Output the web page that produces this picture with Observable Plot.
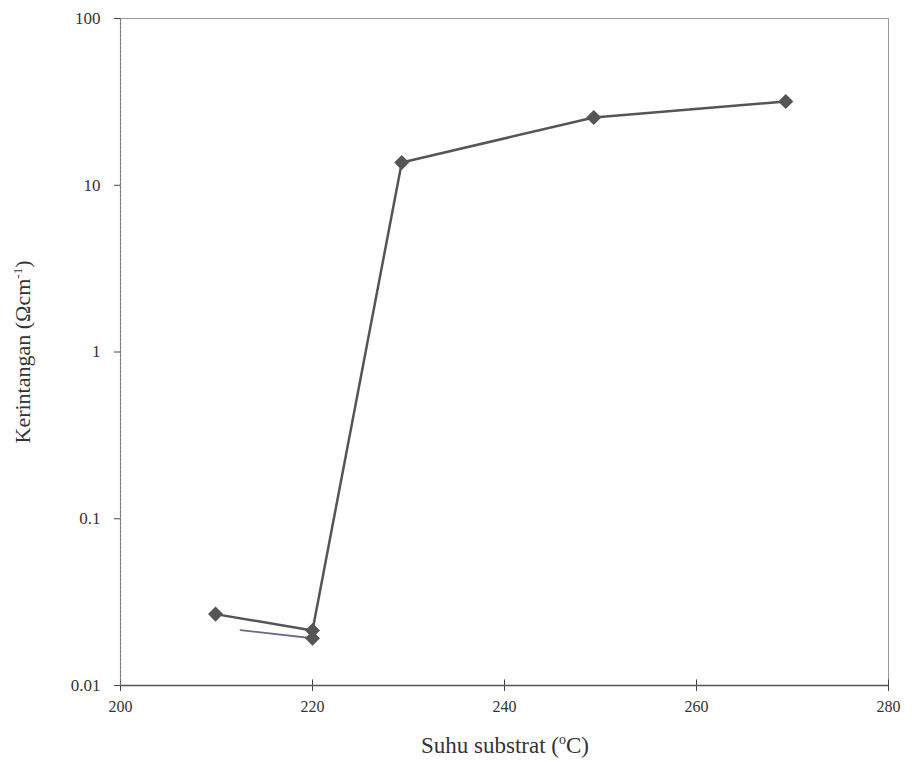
<!DOCTYPE html>
<html>
<head>
<meta charset="utf-8">
<script src="https://cdn.jsdelivr.net/npm/d3@7"></script>
<script src="https://cdn.jsdelivr.net/npm/@observablehq/plot@0.6"></script>
<style>
  html, body { margin: 0; padding: 0; background: #fff; }
  #chart { width: 912px; height: 762px; }
</style>
</head>
<body>
<div id="chart"></div>
<script>
// Main series: substrate temperature (°C) vs resistivity
const temps = [209.9, 220, 229.3, 249.3, 269.3];
const resist = [0.0268, 0.0214, 13.7, 25.5, 31.8];
// Secondary (lower) branch at 220 °C
const branchTemps = [212.5, 220];
const branchResist = [0.0215, 0.0192];
const xTicks = [200, 220, 240, 260, 280];
const yTicks = [0.01, 0.1, 1, 10, 100];
const yTickLabels = ["0.01", "0.1", "1", "10", "100"];

const mainData = temps.map((t, i) => ({x: t, y: resist[i]}));
const branchData = branchTemps.map((t, i) => ({x: t, y: branchResist[i]}));

const serif = "'Liberation Serif', 'DejaVu Serif', serif";

const chart = Plot.plot({
  width: 912,
  height: 762,
  marginLeft: 120,
  marginRight: 24,
  marginTop: 18,
  marginBottom: 77,
  style: {fontFamily: serif, fontSize: "14px", color: "#333", background: "#fff"},
  x: {domain: [200, 280], label: null},
  y: {type: "log", domain: [0.01, 100], label: null},
  marks: [
    Plot.frame({stroke: "#999", strokeWidth: 1}),
    Plot.axisY({ticks: yTicks, tickFormat: (d) => yTickLabels[yTicks.indexOf(d)], tickSize: 6, tickPadding: 14, fontSize: 17, fill: "#333", stroke: "#444"}),
    Plot.axisX({ticks: xTicks, tickFormat: (d) => String(d), tickSize: 6, tickPadding: 9, fontSize: 16, fill: "#333", stroke: "#444"}),
    Plot.ruleX(xTicks, {y1: 0.01, y2: 0.0108, stroke: "#444"}),
    Plot.ruleY([0.01], {stroke: "#555", strokeWidth: 1.5}),
    Plot.ruleX([200], {stroke: "#777", strokeWidth: 1.2, strokeDasharray: "3,1"}),
    Plot.line(branchData, {x: "x", y: "y", stroke: "#6a6a8a", strokeWidth: 1.8}),
    Plot.line(mainData, {x: "x", y: "y", stroke: "#555", strokeWidth: 2.5}),
    Plot.dot(branchData.slice(-1), {x: "x", y: "y", symbol: "square", rotate: 45, r: 6, fill: "#555"}),
    Plot.dot(mainData, {x: "x", y: "y", symbol: "square", rotate: 45, r: 6, fill: "#555"})
  ]
});

const svg = d3.select(chart);
svg.append("text")
  .attr("x", 505).attr("y", 753)
  .attr("text-anchor", "middle")
  .attr("font-family", serif).attr("font-size", 23).attr("fill", "#333")
  .call(t => {
    t.append("tspan").text("Suhu substrat (");
    t.append("tspan").attr("font-size", 14).attr("dy", -9).text("o");
    t.append("tspan").attr("dy", 9).text("C)");
  });
svg.append("text")
  .attr("transform", "translate(30,352) rotate(-90)")
  .attr("text-anchor", "middle")
  .attr("font-family", serif).attr("font-size", 22).attr("fill", "#333")
  .call(t => {
    t.append("tspan").text("Kerintangan (Ωcm");
    t.append("tspan").attr("font-size", 13).attr("dy", -8).text("-1");
    t.append("tspan").attr("dy", 8).text(")");
  });

document.getElementById("chart").appendChild(chart);
</script>
</body>
</html>
